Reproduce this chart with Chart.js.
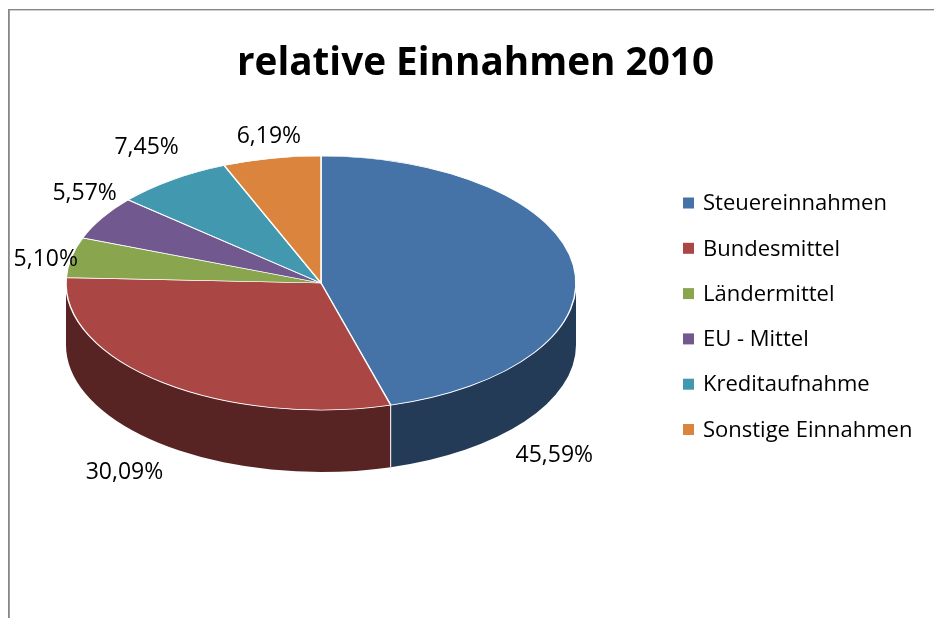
<!DOCTYPE html>
<html><head><meta charset="utf-8">
<script src="https://cdn.jsdelivr.net/npm/chart.js@4.4.1/dist/chart.umd.min.js"></script>
<style>html,body{margin:0;padding:0;background:#fff;}canvas{display:block;}</style>
</head><body>
<canvas id="c" width="934" height="618"></canvas>
<script>
// ---- data ----
const categories = ['Steuereinnahmen', 'Bundesmittel', 'Ländermittel', 'EU - Mittel', 'Kreditaufnahme', 'Sonstige Einnahmen'];
const shares = [45.59, 30.09, 5.10, 5.57, 7.45, 6.19];
const chartTitle = 'relative Einnahmen 2010';

// ---- style ----
const sliceColors = ['#4572A7', '#AA4643', '#89A54E', '#71588F', '#4198AF', '#DB843D'];
const PIE = { cx: 321, cy: 283, rx: 255, ry: 127, depth: 62, labelGap: 25 };
const labelNudge = [[-44, 193], [-23, 8], [-1, 7], [4, -12], [-11, -12], [2, 3]];
const LEGEND = { x: 683, y: 204, step: 45.3, box: 11, textX: 703 };
const FONT = '"Open Sans", "DejaVu Sans", sans-serif';

function darken(hex, f) {
  const n = parseInt(hex.slice(1), 16);
  const r = Math.round(((n >> 16) & 255) * f), g = Math.round(((n >> 8) & 255) * f), b = Math.round((n & 255) * f);
  return `rgb(${r},${g},${b})`;
}
function fmt(v) { return v.toFixed(2).replace('.', ',') + '%'; }

const pie3d = {
  id: 'pie3d',
  beforeDraw(chart) {
    const ctx = chart.ctx;
    ctx.save();
    ctx.fillStyle = '#fff';
    ctx.fillRect(0, 0, chart.width, chart.height);
    ctx.fillStyle = '#878787';
    ctx.fillRect(8, 9, 1.8, chart.height - 9);
    ctx.fillRect(8, 9, chart.width - 8, 1.4);
    // title
    ctx.fillStyle = '#000';
    ctx.font = 'bold 38.7px ' + FONT;
    ctx.textAlign = 'center';
    ctx.textBaseline = 'alphabetic';
    ctx.fillText(chartTitle, 475.5, 75);
    ctx.restore();
  },
  beforeDatasetsDraw(chart) {
    const ctx = chart.ctx;
    const arcs = chart.getDatasetMeta(0).data;
    const { cx, cy, rx, ry, depth } = PIE;
    ctx.save();
    // side walls (front half only: angles 0..PI)
    arcs.forEach((arc, i) => {
      const s = Math.max(arc.startAngle, 0), e = Math.min(arc.endAngle, Math.PI);
      if (e <= s) return;
      ctx.beginPath();
      ctx.ellipse(cx, cy, rx, ry, 0, s, e, false);
      ctx.ellipse(cx, cy + depth, rx, ry, 0, e, s, true);
      ctx.closePath();
      ctx.fillStyle = darken(sliceColors[i], 0.52);
      ctx.fill();
    });
    // white separators on the wall
    ctx.strokeStyle = '#fff';
    ctx.lineWidth = 1;
    arcs.forEach(arc => {
      const a = arc.startAngle;
      if (a > 0 && a < Math.PI) {
        const x = cx + rx * Math.cos(a), y = cy + ry * Math.sin(a);
        ctx.beginPath(); ctx.moveTo(x, y); ctx.lineTo(x, y + depth); ctx.stroke();
      }
    });
    ctx.restore();
    // map the circular pie onto the top ellipse
    const a0 = arcs[0];
    const R = a0.outerRadius;
    ctx.save();
    ctx.translate(cx, cy);
    ctx.scale(rx / R, ry / R);
    ctx.translate(-a0.x, -a0.y);
  },
  afterDatasetsDraw(chart) {
    const ctx = chart.ctx;
    ctx.restore();
    const arcs = chart.getDatasetMeta(0).data;
    const { cx, cy, rx, ry, depth, labelGap } = PIE;
    ctx.save();
    ctx.fillStyle = '#000';
    ctx.font = '23px ' + FONT;
    ctx.textAlign = 'center';
    ctx.textBaseline = 'middle';
    arcs.forEach((arc, i) => {
      const m = (arc.startAngle + arc.endAngle) / 2;
      const sn = Math.sin(m);
      const x = cx + (rx + labelGap) * Math.cos(m) + labelNudge[i][0];
      const y = cy + (ry + labelGap) * sn + (sn > 0 ? depth : 0) + labelNudge[i][1];
      ctx.fillText(fmt(shares[i]), x, y);
    });
    // legend
    ctx.textAlign = 'left';
    ctx.font = '22px ' + FONT;
    categories.forEach((c, i) => {
      const yc = LEGEND.y + i * LEGEND.step;
      ctx.fillStyle = sliceColors[i];
      ctx.fillRect(LEGEND.x, yc - LEGEND.box / 2 - 1, LEGEND.box, LEGEND.box);
      ctx.fillStyle = '#000';
      ctx.fillText(c, LEGEND.textX, yc);
    });
    ctx.restore();
  }
};

new Chart(document.getElementById('c'), {
  type: 'pie',
  data: {
    labels: categories,
    datasets: [{
      data: shares,
      backgroundColor: sliceColors,
      borderColor: '#ffffff',
      borderWidth: 1.5,
      clip: false
    }]
  },
  options: {
    responsive: false,
    animation: false,
    events: [],
    layout: { padding: { top: 54, bottom: 54, left: 66, right: 358 } },
    plugins: { legend: { display: false }, title: { display: false }, tooltip: { enabled: false } }
  },
  plugins: [pie3d]
});
</script>
</body></html>
